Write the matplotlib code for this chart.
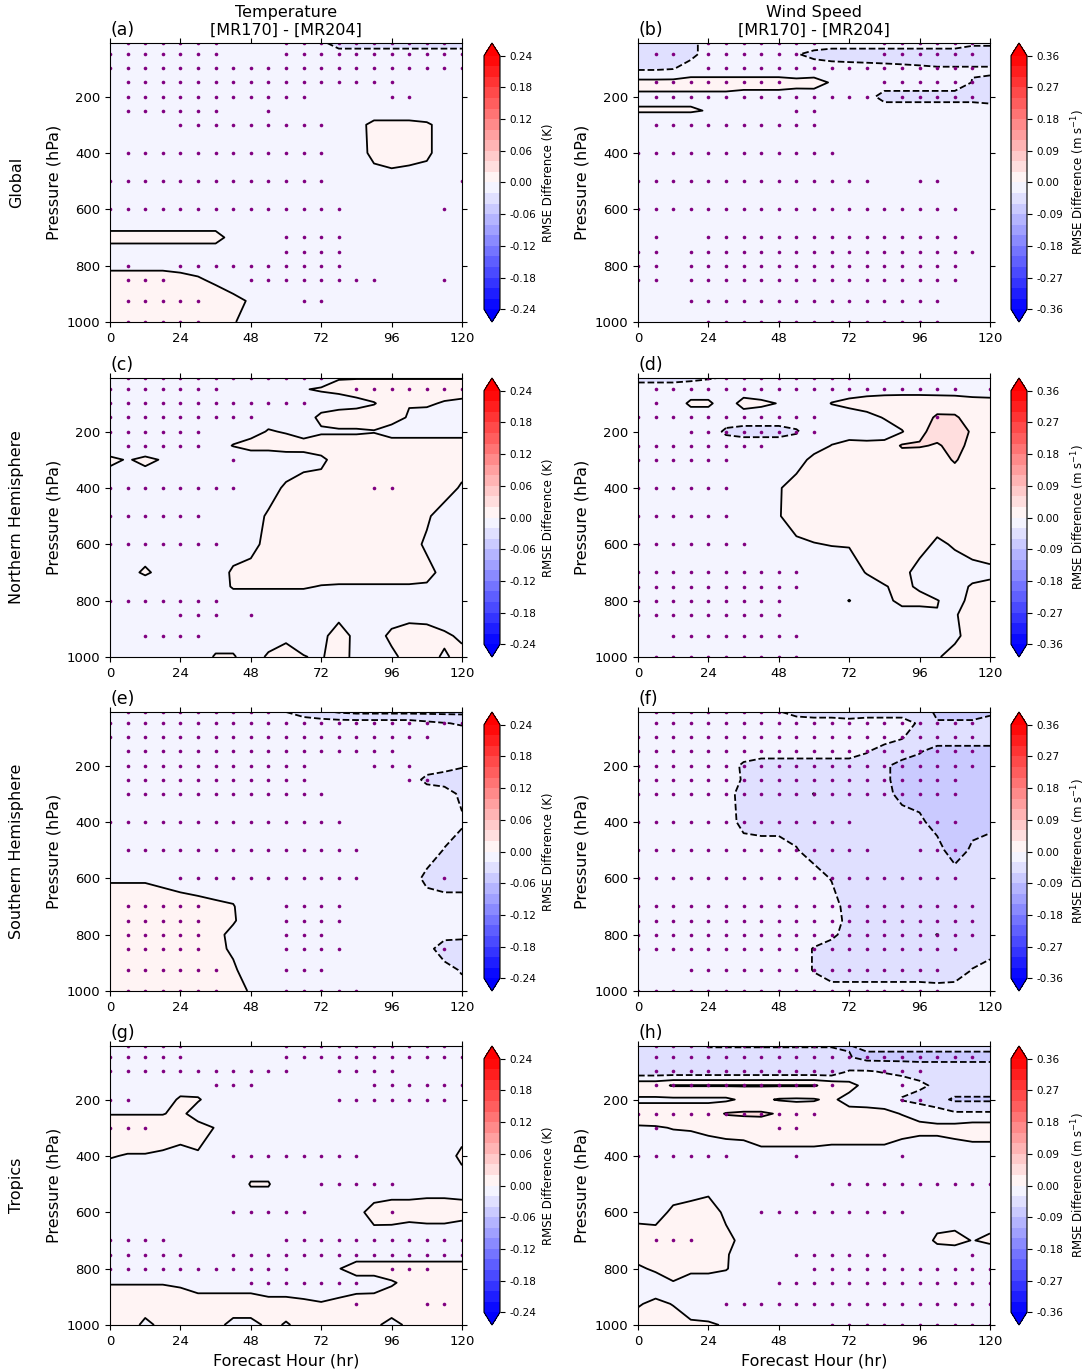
import numpy as np
import matplotlib.pyplot as plt

# forecast hours and pressure levels of the grid
hours = np.arange(0, 121, 6)
plev = np.array([10, 50, 100, 150, 200, 250, 300, 400, 500, 600, 700, 750, 800, 850, 925, 1000])

# RMSE differences, in units of 0.001 (K or m/s), rows top (10 hPa) -> bottom (1000 hPa)
t_glob = [
    [-10]*12 + [-15] + [-30]*8,
    [-10]*21,
    [-10]*21,
    [-10]*21,
    [-10]*21,
    [-10]*15 + [-18, -18, -18, -18] + [-10, -10],
    [-10]*15 + [8, 8, 8, 4] + [-10, -10],
    [-10]*15 + [6, 12, 8, 4] + [-10, -10],
    [-10]*21,
    [-10]*21,
    [3]*7 + [-3] + [-10]*13,
    [-4]*7 + [-10]*14,
    [-10]*21,
    [18, 18, 18, 18, 10, 3, -5] + [-10]*14,
    [15]*7 + [5, -2] + [-10]*12,
    [10]*7 + [2, -10] + [-10]*12,
]
w_glob = [
    [-40]*4 + [-15]*15 + [-25, -25],
    [-40]*4 + [-15]*5 + [-28, -38] + [-45]*10,
    [-35, -35, -32] + [-15]*9 + [-18, -20, -22, -24, -26, -28, -28, -28, -28],
    [9]*9 + [6, 8, -2] + [-15]*7 + [-31, -32],
    [-5]*6 + [-8]*4 + [-10, -12, -15, -20] + [-40]*6 + [-45],
    [2, 2, 2, 2, -1] + [-15]*16,
] + [[-15]*21 for _ in range(10)]
t_nh = [
    [-10]*13 + [-1]*8,
    [-10]*11 + [-1, 2, 5] + [10]*7,
    [-10]*14 + [-7, -1, 8, 1, 3, -2, -5],
    [-10]*12 + [5, 12, 12, 10, 8, -2, -8, -8, -8],
    [-10]*9 + [2, -2, -10, -3, -3, -3, -1, -8, -8, -8, -8, -8],
    [-10]*7 + [1, 10, 10, 12, 10, 12, 12, 12, 10, 10, 10, 10, 10, 10],
    [3, -1, 3, -1, -10, -10, -10, -19, -19, -19, -15, -12, -5, 10, 10, 10, 10, 10, 10, 10, 11],
    [-10]*10 + [4, 15] + [10]*8 + [-3],
    [-10]*9 + [3] + [10]*8 + [3, -10, -10],
    [-10, -10, -19, -10, -10, -10, -10, -10, -10] + [10]*8 + [7, -3, -10, -10],
    [-10, -10, 5, -10, -10, -10, -10, 3] + [10]*10 + [5, -5, -10],
    [-10, -10, -19, -10, -10, -10, -10, 2, 2, 2, 2, 2, -1] + [-2]*6 + [-10, -10],
    [-10]*21,
    [-10]*21,
    [-10]*13 + [17, -10, -10, 5, 15, 12, 3, -3],
    [-10]*6 + [2, 2, -10, 3, 19, 1, -3, 15, -10, -10, -5, 8, 5, -2, 5],
]
w_nh = [
    [-40, -40, -40, -36, -32, -28] + [-15]*15,
    [-15]*21,
    [-15, -15, -15, 5, 5, -15, 10, 5, -1, -15, -15, 1, 8, 15, 20, 22, 22, 20, 18, 12, 10],
    [-15]*12 + [-15, -10, 2, 15, 20, 33, 33, 20, 15],
    [-15]*5 + [-35, -40, -40, -40, -33] + [-15]*5 + [-2, 25, 38, 38, 28, 20],
    [-15]*11 + [1, 10, 8, 10, 33, 32, 28, 36, 25, 20],
    [-15]*10 + [10, 15, 15, 15, 15, 15, 15, 22, 32, 20, 15],
    [-15]*8 + [-3] + [15]*12,
    [-15]*8 + [-2] + [15]*12,
    [-15]*9 + [-6, -1, 1, 2, 10, 10, 10, 10, -5, 3, 12, 12],
    [-15]*13 + [2, 12, 8, -10, -15, -12, -10, -5],
    [-15]*14 + [-2, 8, -5, -15, -10, 3, 5],
    [-15]*12 + [1, -15, -10, 10, 10, 1, -10, 8, 10],
    [-15]*17 + [-1, -2, 10, 12],
    [-15]*18 + [-5, 10, 12],
    [-15]*17 + [-2, 8, 10, 10],
]
t_sh = [
    [-10]*10 + [-20, -28, -35, -42] + [-45]*7,
    [-10]*18 + [-15, -19, -22],
    [-10]*21,
    [-10]*21,
    [-10]*19 + [-12, -18],
    [-10]*18 + [-25, -30, -30],
    [-10]*20 + [-25],
    [-10]*20 + [-17],
    [-10]*19 + [-21, -30],
    [-3, -3, -3, -6] + [-10]*14 + [-25, -30, -30],
    [15, 15, 15, 12, 10, 6, 3, 1] + [-10]*13,
    [10]*7 + [2] + [-10]*13,
    [10]*6 + [5, -5] + [-10]*12 + [-15],
    [10]*6 + [5, -3] + [-10]*11 + [-35, -30],
    [10]*7 + [3] + [-10]*12 + [-23],
    [10]*7 + [8, -2] + [-10]*12,
]
w_sh = [
    [-15]*8 + [-28, -40] + [-45]*7 + [-65]*4,
    [-15]*12 + [-20, -15, -15, -15, -35, -58, -58, -58, -50],
    [-15]*15 + [-28] + [-45]*5,
    [-15]*13 + [-28, -45, -45, -58, -70, -70, -70, -70],
    [-15]*6 + [-35] + [-45]*7 + [-55] + [-70]*6,
    [-15]*6 + [-33] + [-45]*7 + [-55] + [-70]*6,
    [-15]*6 + [-45, -45, -45, -45, -61, -45, -45, -45, -50] + [-70]*6,
    [-15]*6 + [-40] + [-45]*9 + [-55] + [-70]*4,
    [-15]*9 + [-28] + [-45]*7 + [-50, -75, -55, -45],
    [-15]*11 + [-32] + [-45]*9,
    [-15]*12 + [-45]*9,
    [-15]*12 + [-40] + [-45]*8,
    [-15]*11 + [-22] + [-45]*5 + [-61] + [-45]*3,
    [-15]*10 + [-32] + [-45]*10,
    [-15]*10 + [-32] + [-50]*6 + [-55, -50, -29, -15],
    [-15]*21,
]
t_tr = [
    [-10]*21,
    [-10]*21,
    [-10]*21,
    [-10]*21,
    [-10, -10, -10, -10, 3, 2] + [-10]*15,
    [-1, -1, -1, -1, 5, -10] + [-10]*15,
    [12, 12, 12, 12, 12, 8, -1] + [-10]*14,
    [1, -1, -1, -3, -8, -2] + [-10]*14 + [5],
    [-10]*8 + [1, 1] + [-10]*11,
    [-10]*14 + [-4, 5, 8, 8, 10, 10, 8],
    [-10]*15 + [-6, -10, -15, -15, -15, -19],
    [-10]*21,
    [-10]*13 + [-1] + [10]*7,
    [-1, -1, -1, -1, -3] + [-10]*11 + [-2, 5, 10, 10, 10],
    [10]*9 + [5, 5, 3, 1, 4, 9] + [10]*6,
    [10, 10, -5, 5, 10, 10, 5, -5, -5, 3, -1, 3, 3, 5, 8, 3, -5, 3, 10, 10, 10],
]
w_tr = [
    [-45]*4 + [-62]*9 + [-50]*8,
    [-45]*12 + [-58] + [-70]*8,
    [-52]*12 + [-28, -28, -32, -35, -40, -40, -40, -40, -40],
    [22, 22] + [32]*9 + [22, 10, -10, -15, -20, -25, -35, -40, -40, -40],
    [-5]*6 + [5, 5, -2, -3, -2, 5, -10, -10, -10, -32, -40, -50, -65, -65, -65],
    [15]*5 + [32, 34, 34, 28, 15, 15, 15, 10, 8, 5, -1, -8, -15, -25, -25, -25],
    [-3, -2, 1, 2, 6, 10, 12, 16, 16, 16, 16, 15, 15, 15, 15, 10, 6, 6, 10, 15, 15],
    [-15]*7 + [-8]*4 + [-10]*4 + [-15]*6,
    [-15]*21,
    [-8, -10, 5, 10, 19, -8] + [-15]*15,
    [12]*5 + [10, -10] + [-15]*9 + [-15, 5, 8, -1, 5],
    [12]*5 + [3, -15] + [-15]*14,
    [-5, 5, 8, 8, 8, 2, -15] + [-15]*14,
    [-15, -15, -1] + [-15]*18,
    [-2, 5, -1] + [-15]*18,
    [10, 10, 10, 5, 3, -2] + [-15]*15,
]

# significance stippling, one string per level, one character per forecast hour
dots_t_glob = [
    ".xxxxxx...xxxxxxxxxx.", "xxxxxxx...xxxxxxxxxxx", "xxxxxxxxxxxxxxxxxxxxx", ".xxxxxxxxxxxxxxxx....",
    ".xxxxxxxxxxx....xx...", ".xxxxxx..x...........", "....xxxxxxxxx........", ".xxxxxxxxxxxx........",
    "xxxxxxxxxxxxx.......x", "xxxxxxxxxxxxxx.....x.", "..........xxxx.......", "..........xxxx.......",
    ".x..xxxxxxxxxx.......", ".xxx....xxxxxxxx...x.", ".xxxxx.....xx........", ".xxxxx...............",
]
dots_w_glob = [
    "....xxxxxxx...xxxxxx.", ".xx.xxxxxx....xxxxxx.", "....xxxxxxxxxxxxxxxx.", ".xxxxxxxx.....xxxxxx.",
    ".xxxxxxxxxxxxx.xxxxx.", ".........xx..........", ".xxxxxxxxxx..........", "xxxxxxxxxxxx.........",
    "xxxxxxxxxxxxxx..xx...", "xxxxxxxxxxxxxxxxxxx..", ".x..xxxxxxxxxxxxxxx..", "xx.xxxxxxxxxxxxxxxxx.",
    "xx.xxxxxxxxxxxxxxxx..", "xx.xxxxxxxxxxxxxxxx..", "...xxxxxxxxxxxxxxx...", "....xxxxxxxxxxxxxx...",
]
dots_t_nh = [
    ".xxxxxxxxxxxx........", "xxxxxxx.......xxxxxxx", "xxxxxxxxxxxx.........", "xxxxxxxxx............",
    "xxxxxx...............", ".xxxxx...............", ".......x.............", "xxxxxxxx.......xx....",
    "xxxxxx...............", "xxxxxxx..............", ".....................", ".....................",
    "xxxxxxx..............", "....xxx.x............", "..xxxx...............", ".....................",
]
dots_w_nh = [
    "....xxxxxxxxx........", ".xxxxxxxxxxxxxxxxxx.x", ".x...................", "xxxxxxxxxxx......x...",
    "...xxxxxxxx..........", "xxxxxxxx.............", "xxxxxx...............", "xxxxxx...............",
    "xxxxxx...............", "xxxxxxx..............", "xxxxxxxxxx...........", "xxxxxxxxxx...........",
    "xxxxxxxxx............", "xxxxxxxxx............", "..xxxxxxxx...........", ".xxxxxxxxx...........",
]
dots_t_sh = [
    ".xxxxxxxxx...........", "xxxxxxxxxxxxxxxxxxxxx", "xxxxxxxxxxxxxxxxxxx..", ".xxxxxxxxxxxxxxxx....",
    ".xxxxxxxxxxx...xxx...", ".xxxxxxxxxxx.....xx..", ".xxxxxxxxxxxx........", "xxxxxxxxxxxxxx.......",
    ".xxxxxxxxxxxxxx......", "....xxxxxxxxxxx....x.", ".xxxxx....xxxx.......", ".xxxxx....xxxx.......",
    ".xxxxx....xxx........", ".xxxxx....xxxx.....x.", ".xxxxxx...xxx........", ".xxxxxx...xxxxx......",
]
dots_w_sh = [
    ".xxxxxxxx............", ".xxxxxxxxxxxxxxxxxxx.", "xxxxxxxxxxxxxxxxxxxx.", "xxxxxxxxxxxxxxxxxxxx.",
    "xxxxxxxxxxxxxxxxxxxx.", "xxxxxxxxxxxxxxxxxxx..", "xxxxxxxxxxxxxxxxxxx..", "xxxxxxxxxxxxx...xxx..",
    "xxxxxxxxxxxxxx..xxx..", "xxxxxxxxxxxxxxxxxxx..", "xxxxxxxxxxxxxxxxxxxx.", "xxxxxxxxxxxxxxxxxxxx.",
    "xxxxxxxxxxxxxxxxxxxx.", "xxxxxxxxxxxxxxxxxxx..", "...xxxxxxxxxxxxxxx...", "xxxxxxxxxxxxxxxxxx...",
]
dots_t_tr = [
    ".xxxx.....xxxxxxxxxx.", "xxxxx.....xxxxxxxxxxx", "xxxxxxxxxxx..xxxx....", "......xxx......xxxxxx",
    "xx...........xxxxxxx.", ".....................", "xxx..................", ".......xxxxxxxx......",
    "............xxxxx....", ".......xxxxx....x....", "xxxx......xxxxxxxxxxx", "xxxxx..xxxxxxxxxxxxxx",
    "xxxxxxxxxxx.....xxx..", "........xxxxxxx......", "..............x...xx.", ".....................",
]
dots_w_tr = [
    ".xxxxxxxxxx..........", ".xxxxxxxxxxxxxxxxxxx.", ".xxxxxxxxxxx..xxx....", ".xxxxxxxxxxx...x.....",
    "...............xx....", "xxxxxxxxxxx..........", ".x......xx...........", "xxxxxx...x.....x.....",
    "...........xxxxxxxxxx", ".......xxxxxxxxx.....", ".xxx.................", ".........xxxxxx....x.",
    "..........xxxxxxxxxxx", "........xxxxxxxxxxxxx", ".....xxxxxxxxxxxxxxxx", "...........xxxxxxxxxx",
]

row_names = ["Global", "Northern Hemisphere", "Southern Hemisphere", "Tropics"]
t_fields = [t_glob, t_nh, t_sh, t_tr]
w_fields = [w_glob, w_nh, w_sh, w_tr]
t_dots = [dots_t_glob, dots_t_nh, dots_t_sh, dots_t_tr]
w_dots = [dots_w_glob, dots_w_nh, dots_w_sh, dots_w_tr]
letters = ["(a)", "(b)", "(c)", "(d)", "(e)", "(f)", "(g)", "(h)"]

t_lev = np.round(np.arange(-12, 13) * 0.02, 2)
w_lev = np.round(np.arange(-12, 13) * 0.03, 2)
t_ticks = np.round(np.arange(-4, 5) * 0.06, 2)
w_ticks = np.round(np.arange(-4, 5) * 0.09, 2)

W, H = 1091, 1371
fig = plt.figure(figsize=(W / 100, H / 100), dpi=100)

HH, PP = np.meshgrid(hours, plev)
col_x = [110, 638]
cb_x = [484, 1011]
row_top = [43, 378, 712, 1046]
ax_w, ax_h = 352, 279

for i in range(4):
    for k in range(2):
        if k == 0:
            field, dots, lev, ticks = t_fields[i], t_dots[i], t_lev, t_ticks
            unit = "RMSE Difference (K)"
            title = "Temperature\n[MR170] - [MR204]"
        else:
            field, dots, lev, ticks = w_fields[i], w_dots[i], w_lev, w_ticks
            unit = "RMSE Difference (m s$^{-1}$)"
            title = "Wind Speed\n[MR170] - [MR204]"
        z = np.array(field, dtype=float) / 1000.0
        mask = np.array([[c == "x" for c in row] for row in dots])

        bottom = 1 - (row_top[i] + ax_h) / H
        ax = fig.add_axes([col_x[k] / W, bottom, ax_w / W, ax_h / H])
        cf = ax.contourf(hours, plev, z, levels=lev, cmap="bwr", extend="both")
        ax.contour(hours, plev, z, levels=lev, colors="k", linewidths=1.3)
        ax.plot(HH[mask], PP[mask], "o", color="purple", ms=2.6, mew=0)

        ax.set_xlim(0, 120)
        ax.set_ylim(1000, 10)
        ax.set_xticks([0, 24, 48, 72, 96, 120])
        ax.set_yticks([200, 400, 600, 800, 1000])
        ax.tick_params(top=True, right=True, labelsize=9.5)
        ax.set_ylabel("Pressure (hPa)", fontsize=11.5)
        if i == 3:
            ax.set_xlabel("Forecast Hour (hr)", fontsize=11.5)
        if i == 0:
            ax.set_title(title, fontsize=11.5)
        ax.set_title(letters[2 * i + k], loc="left", fontsize=12.5)

        cax = fig.add_axes([cb_x[k] / W, bottom, 16 / W, ax_h / H])
        cb = fig.colorbar(cf, cax=cax, ticks=ticks)
        cb.ax.set_yticklabels(["%.2f" % v for v in ticks])
        cb.ax.tick_params(labelsize=7.5)
        cb.set_label(unit, fontsize=8.5)

    fig.text(17 / W, 1 - (row_top[i] + ax_h / 2) / H, row_names[i], rotation=90,
             ha="center", va="center", fontsize=11.5)

fig.savefig("out.png", dpi=100)
